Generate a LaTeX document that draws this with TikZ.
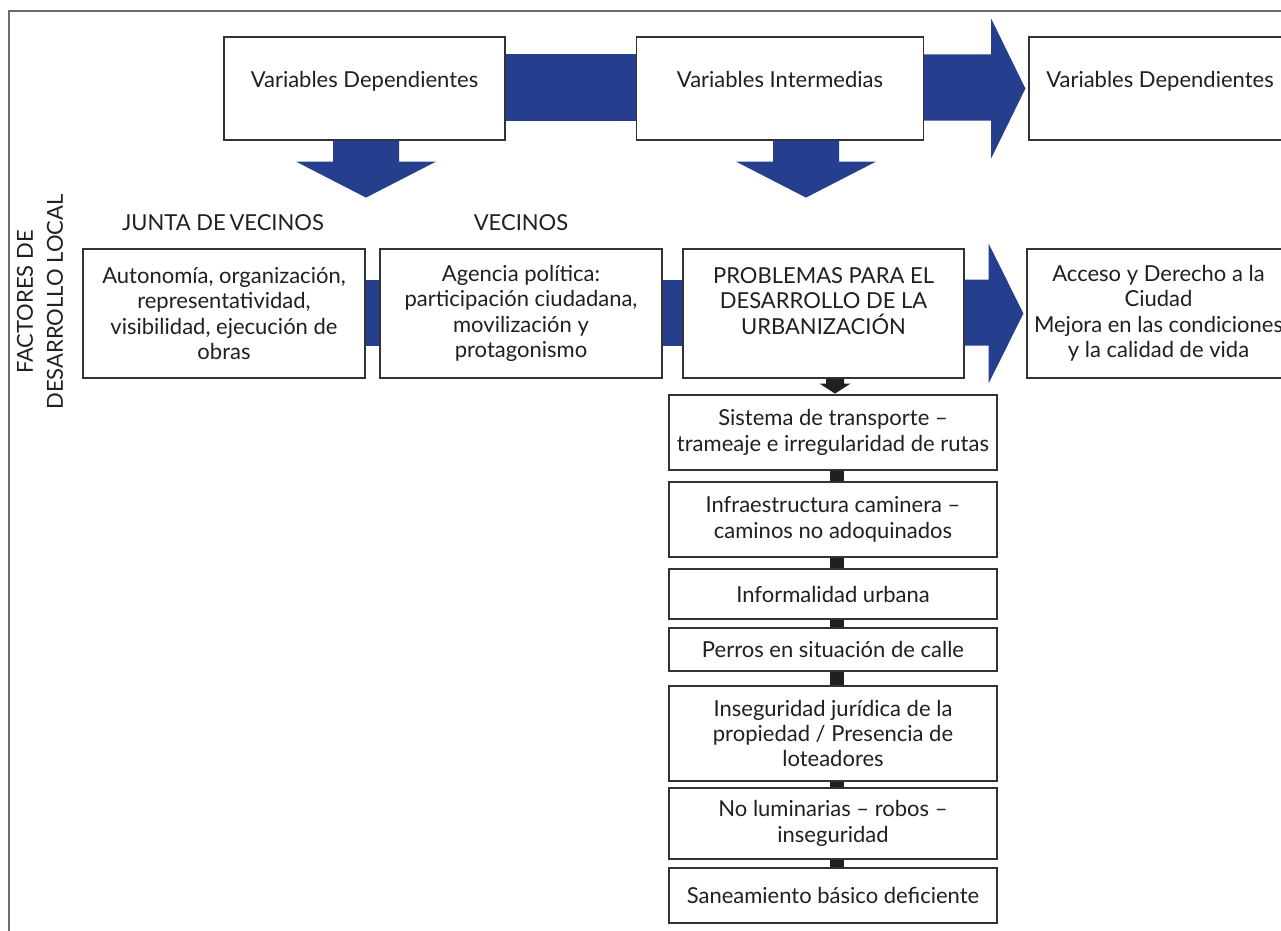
\documentclass[tikz,border=0pt]{standalone}
\usepackage{fontspec}
\setmainfont{Lato}
\usetikzlibrary{calc}
\definecolor{arrowblue}{HTML}{253F8E}
\definecolor{boxline}{HTML}{333333}
\definecolor{frameline}{HTML}{6A6A6A}
\definecolor{darkconn}{HTML}{231F20}
\begin{document}
\begin{tikzpicture}[x=0.75pt,y=-0.75pt,
  txt/.style={font=\fontsize{16.5pt}{19.1pt}\selectfont,text=darkconn},
  box/.style={txt,draw=boxline,line width=0.9pt,fill=white,align=center,inner sep=2pt},
  topbox/.style={box,minimum width=210.75pt,minimum height=77.25pt,text depth=13pt},
  midbox/.style={box,minimum width=211.5pt,minimum height=96.75pt},
  stackbox/.style={box,minimum width=246pt},
  blue/.style={fill=arrowblue},
  dark/.style={fill=darkconn}]
\useasboundingbox (0,0) rectangle (1281,931);
\clip (0,0) rectangle (1281,931);
% outer frame
\draw[frameline,line width=1.5pt] (9,1000) -- (9,11) -- (1400,11);

% top row
\node[topbox] (b1) at (364.5,88.5) {Variables Dependientes};
\node[topbox,minimum width=215.25pt] (b2) at (780,88.5) {Variables Intermedias};
\node[topbox,minimum width=196.5pt] (b3) at (1160,88.5) {Variables Dependientes};

% middle row
\node[midbox] (A) at (224,313.5) {Autonomía, organización,\\representatividad,\\visibilidad, ejecución de\\obras};
\node[midbox] (B) at (521,313.5) {Agencia política:\\participación ciudadana,\\movilización y\\protagonismo};
\node[midbox,minimum width=210.75pt] (C) at (823.5,313.5) {PROBLEMAS PARA EL\\DESARROLLO DE LA\\URBANIZACIÓN\\\phantom{X}};
\node[midbox,minimum width=197.25pt] (D) at (1158.5,313.5) {Acceso y Derecho a la\\Ciudad\\Mejora en las condiciones\\y la calidad de vida};

% labels
\node[txt] (lj) at (223,223) {JUNTA DE\,VECINOS};
\node[txt] (lv) at (521,223) {VECINOS};
\node[txt,rotate=90,align=center,font=\fontsize{16.5pt}{22.5pt}\selectfont] (vt) at (40,302) {FACTORES DE\\DESARROLLO LOCAL};

% stacked problems
\node[stackbox,minimum height=56.25pt] (s1) at (833,432.5) {Sistema de transporte –\\trameaje e irregularidad de rutas};
\node[stackbox,minimum height=56.25pt] (s2) at (833,519.5) {Infraestructura caminera –\\caminos no adoquinados};
\node[stackbox,minimum height=37.5pt] (s3) at (833,594) {Informalidad urbana};
\node[stackbox,minimum height=32.25pt] (s4) at (833,649.5) {Perros en situación de calle};
\node[stackbox,minimum height=71.25pt] (s5) at (833,733.5) {Inseguridad jurídica de la\\propiedad / Presencia de\\loteadores};
\node[stackbox,minimum height=53.25pt] (s6) at (833,823.5) {No luminarias – robos –\\inseguridad};
\node[stackbox,minimum height=41.25pt] (s7) at (833,895.5) {Saneamiento básico deficiente};

% blue connectors, top row
\fill[blue] ($(b1.east)+(0,-34)$) rectangle ($(b2.west)+(0,32)$);
\fill[blue] ($(b2.east)+(0,-34)$) -- ++(67,0) -- ++(0,-36) -- ($(b3.west)+(-3,0)$)
  -- ($(b2.east)+(67,70)$) -- ++(0,-38) -- ($(b2.east)+(0,32)$) -- cycle;
% down arrows
\coordinate (d1) at ($(b1.south)+(1.5,0)$);
\fill[blue] (d1) ++(-33,0) -- ++(0,21) -- ++(-37,0) -- ++(70,36) -- ++(70,-36) -- ++(-37,0) -- ++(0,-21) -- cycle;
\coordinate (d2) at ($(b2.south)+(26,0)$);
\fill[blue] (d2) ++(-33,0) -- ++(0,21) -- ++(-37,0) -- ++(70,36) -- ++(70,-36) -- ++(-37,0) -- ++(0,-21) -- cycle;

% blue connectors, middle row
\fill[blue] ($(A.east)+(0,-34)$) rectangle ($(B.west)+(0,32)$);
\fill[blue] ($(B.east)+(0,-34)$) rectangle ($(C.west)+(0,32)$);
\fill[blue] ($(C.east)+(0,-34)$) -- ++(24,0) -- ++(0,-36) -- ($(D.west)+(-3,0)$)
  -- ($(C.east)+(24,70)$) -- ++(0,-38) -- ($(C.east)+(0,32)$) -- cycle;

% small black arrow C -> s1
\coordinate (d3) at ($(C.south)+(11.5,0)$);
\fill[dark] (d3) ++(-9,0) -- ++(0,5) -- ++(-6.5,0) -- ++(15.5,10) -- ++(15.5,-10) -- ++(-6.5,0) -- ++(0,-5) -- cycle;

% black connectors between stacked boxes
\foreach \u/\v in {s1/s2,s2/s3,s3/s4,s4/s5,s5/s6,s6/s7}{
  \fill[dark] ($(\u.south)+(-3,0)$) rectangle ($(\v.north)+(11,0)$);
}
\end{tikzpicture}
\end{document}
